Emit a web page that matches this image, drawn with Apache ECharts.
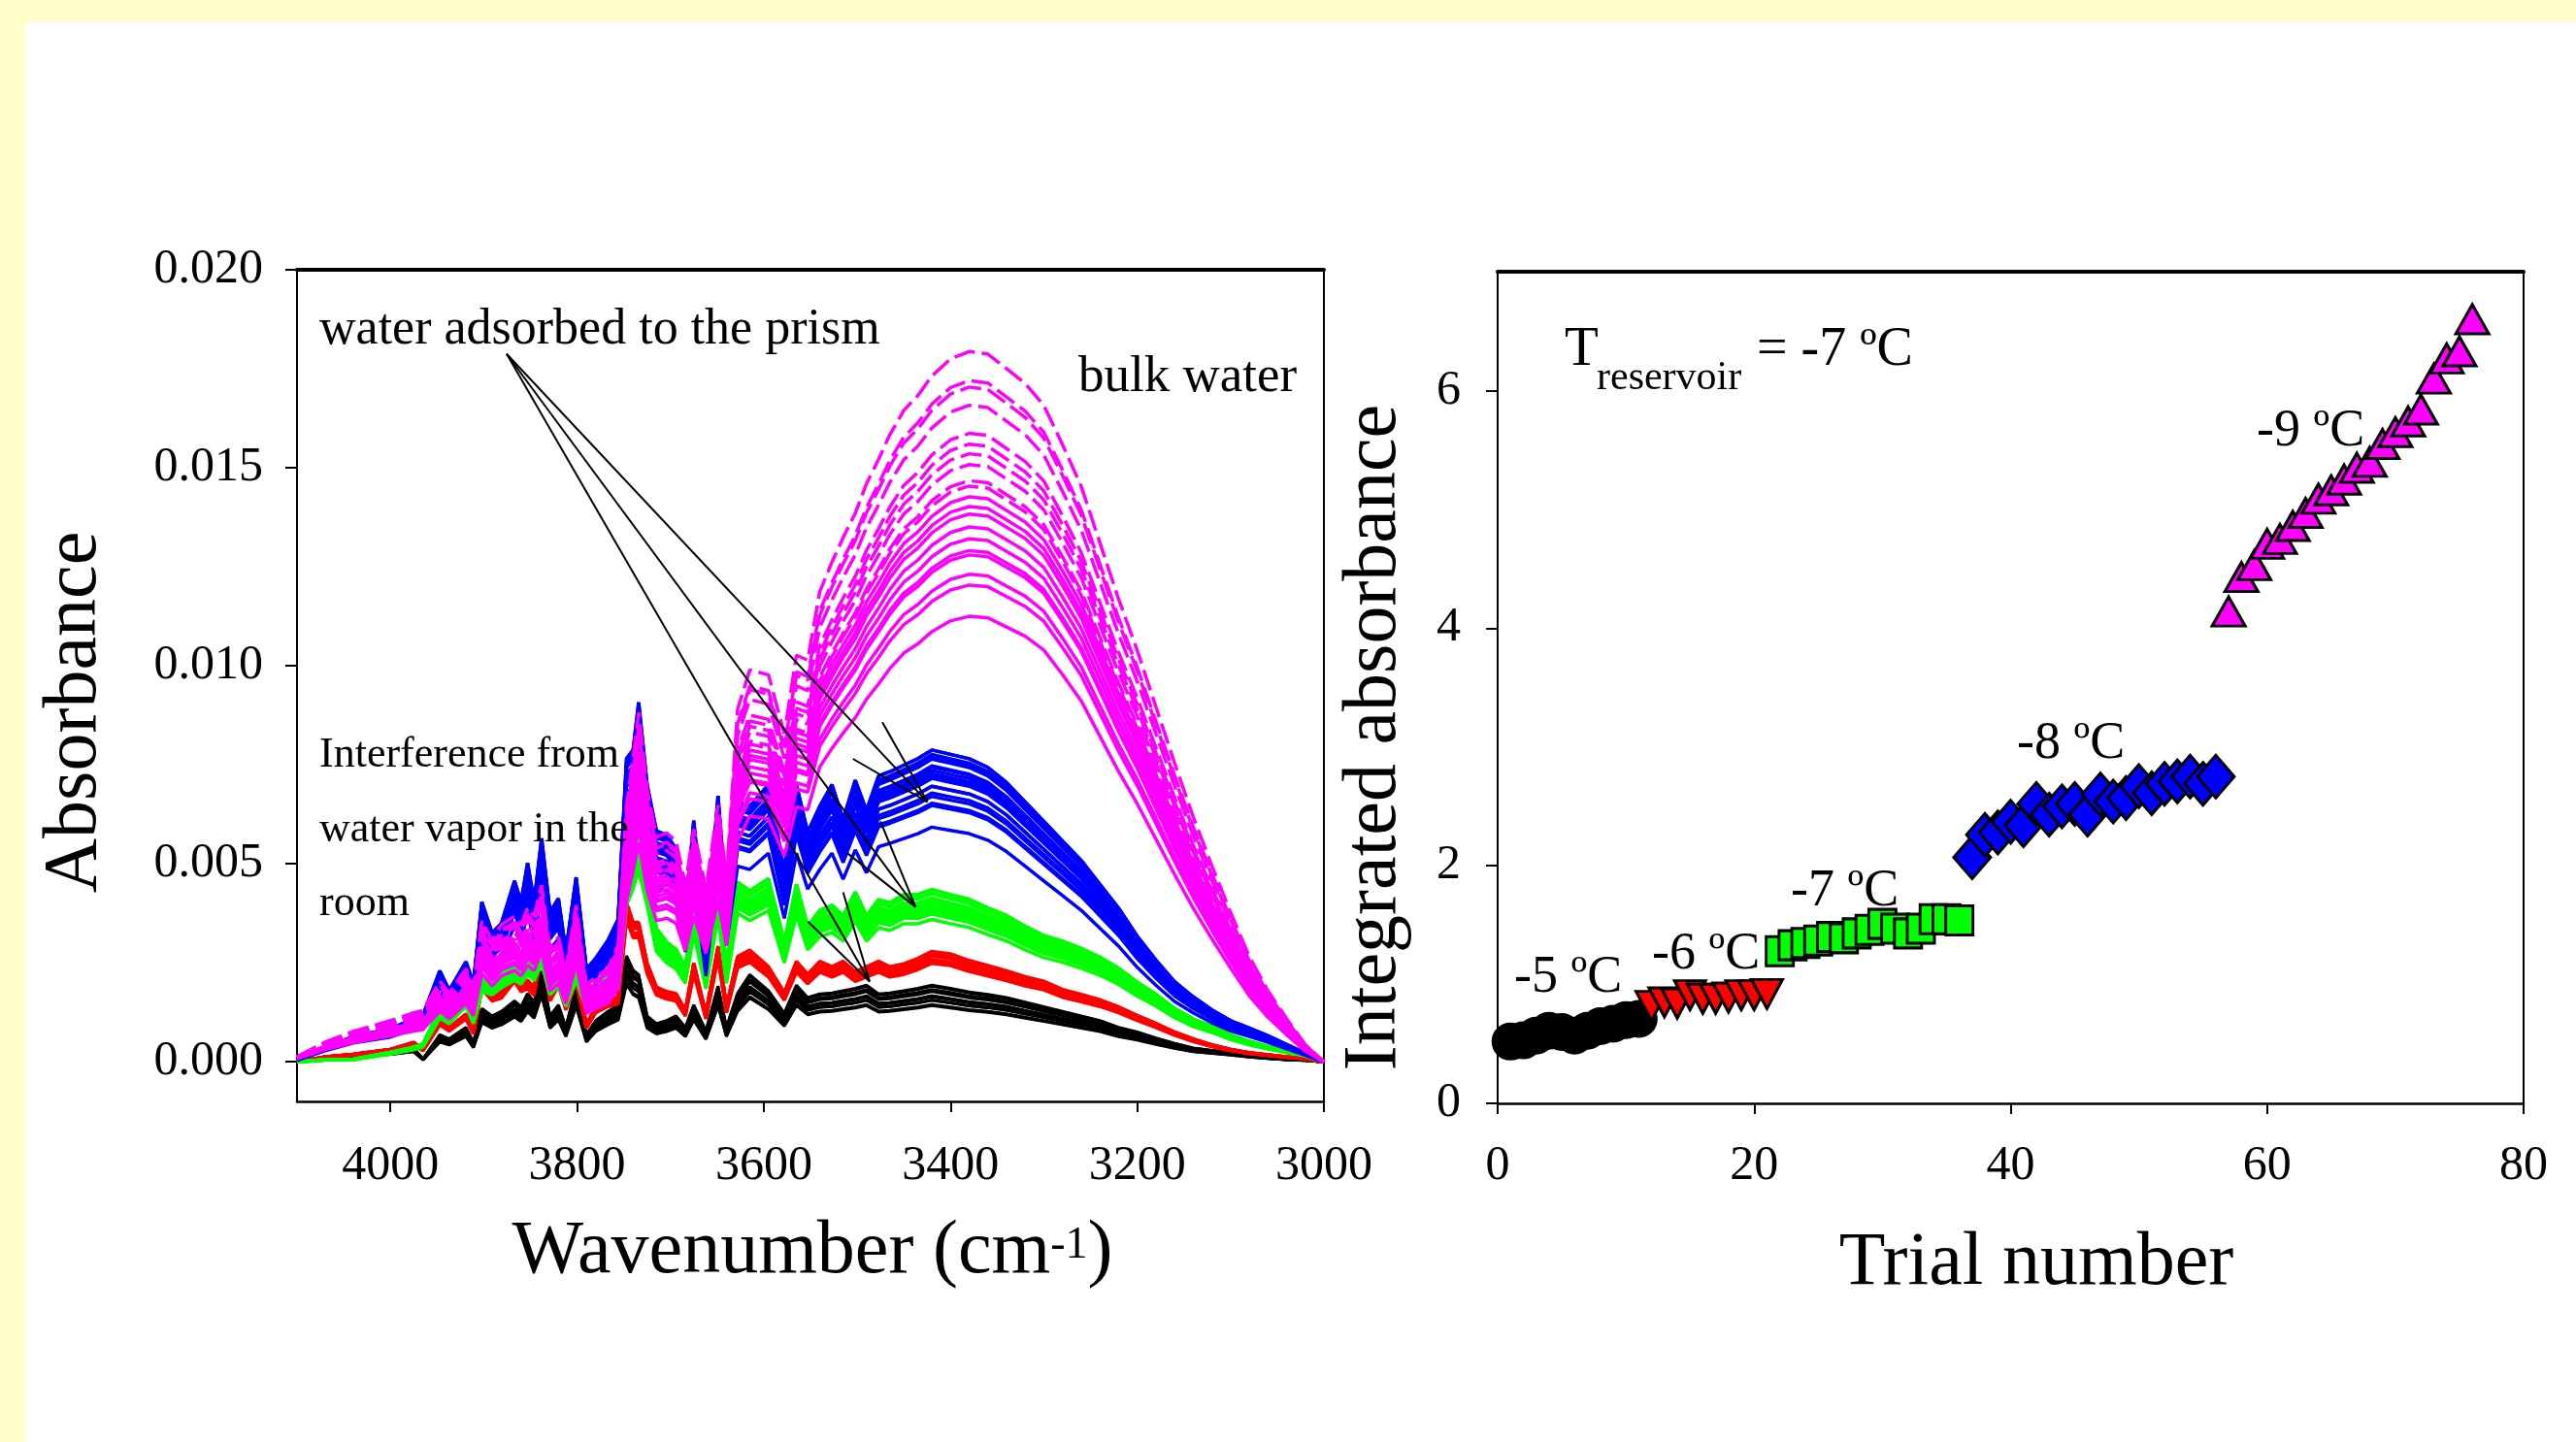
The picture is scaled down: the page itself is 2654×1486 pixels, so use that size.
<!DOCTYPE html>
<html><head><meta charset="utf-8">
<script src="https://cdn.jsdelivr.net/npm/echarts@6/dist/echarts.min.js"></script>
<style>
html,body{margin:0;padding:0;background:#ffffcc;overflow:hidden;}
#paper{position:absolute;left:26px;top:23px;right:0;bottom:0;background:#ffffff;}
#c{position:absolute;left:0;top:0;width:2654px;height:1486px;}
</style>
</head><body><div id="paper"></div><div id="c"></div>
<script>
// ---------- Left panel: ATR-IR spectra (absorbance in units of 10^-3) ----------
const wavenumbers = [4100,4070,4040,4000,3975,3965,3947,3937,3919,3911,3902,3891,3881,3867,3860,3853,3846,3838,3829,3820,3812,3801,3790,3780,3767,3756,3747,3740,3734,3725,3715,3704,3694,3684,3675,3662,3649,3640,3628,3615,3595,3578,3565,3553,3540,3527,3515,3502,3490,3477,3465,3450,3435,3420,3400,3380,3360,3340,3320,3300,3280,3260,3240,3220,3200,3180,3160,3140,3120,3100,3080,3060,3040,3020,3000];
const blackMilliAbs = [0.0,0.08,0.14,0.22,0.3,0.06,0.59,0.5,0.75,0.42,1.16,1.0,1.1,1.33,1.2,1.49,1.3,1.98,1.0,1.24,0.75,1.65,0.59,0.9,1.1,1.24,2.31,2.0,1.9,1.0,0.83,0.9,1.0,0.75,1.24,0.67,1.65,0.75,1.5,1.9,1.55,1.06,1.67,1.4,1.48,1.5,1.55,1.6,1.67,1.48,1.5,1.55,1.6,1.67,1.6,1.52,1.47,1.4,1.3,1.2,1.1,1.0,0.9,0.75,0.65,0.52,0.4,0.3,0.25,0.2,0.14,0.1,0.06,0.04,0.0];
const redMilliAbs = [0.0,0.12,0.18,0.3,0.47,0.3,1.0,0.83,1.16,0.75,1.98,1.65,1.73,2.18,1.9,1.98,1.8,2.97,1.65,2.06,1.41,2.14,0.91,1.33,1.5,1.57,3.86,3.37,3.37,2.39,1.81,1.7,1.65,1.24,2.39,1.16,2.8,1.33,2.55,2.7,2.3,1.67,2.43,2.12,2.43,2.3,2.43,2.18,2.3,2.43,2.3,2.37,2.5,2.67,2.61,2.45,2.33,2.2,2.06,1.95,1.75,1.63,1.5,1.33,1.12,0.93,0.72,0.55,0.41,0.3,0.22,0.17,0.12,0.08,0.0];
const greenMilliAbs = [0.0,0.05,0.06,0.22,0.34,0.42,1.24,1.08,1.57,1.08,1.98,1.9,2.1,2.31,2.2,2.47,2.3,2.8,1.9,2.14,1.57,2.31,1.49,1.9,2.0,2.06,4.43,4.9,5.41,4.43,3.12,2.8,2.63,2.22,3.61,2.06,4.1,2.22,4.2,4.0,4.28,2.8,4.15,3.17,3.54,3.66,3.42,3.97,3.42,3.79,3.72,3.91,3.91,4.03,3.91,3.8,3.6,3.42,3.17,2.95,2.82,2.65,2.45,2.19,1.86,1.58,1.25,1.0,0.83,0.63,0.48,0.36,0.26,0.17,0.0];
const blueMilliAbs = [0.05,0.34,0.58,0.76,1.0,1.08,2.1,1.65,2.31,1.81,3.69,2.97,3.2,4.18,3.69,4.59,3.69,5.16,3.45,3.77,2.55,4.26,2.14,2.39,2.8,3.29,7.0,7.2,8.3,6.4,5.33,5.24,4.92,3.37,5.57,2.63,6.14,3.61,6.0,5.9,6.4,4.4,6.4,5.3,5.9,6.4,5.6,6.5,5.8,6.6,6.7,6.85,7.0,7.2,7.1,7.0,6.8,6.45,6.0,5.55,5.1,4.65,4.1,3.55,2.9,2.35,1.85,1.5,1.2,0.95,0.78,0.6,0.4,0.2,0.0];
const magentaMilliAbs = [0.1,0.4,0.62,0.84,1.0,1.05,1.65,1.4,1.9,1.5,2.88,2.47,2.8,2.97,2.8,3.14,2.97,3.61,2.31,2.55,1.9,3.2,1.57,1.73,1.9,2.39,5.24,6.2,7.13,5.57,4.59,4.67,4.51,3.61,4.75,3.53,5.24,3.77,7.2,8.0,7.9,6.7,8.3,8.2,9.6,10.2,10.7,11.2,11.8,12.3,12.8,13.3,13.6,14.0,14.35,14.5,14.45,14.15,13.85,13.4,12.6,11.75,10.6,9.45,8.4,7.25,6.1,5.0,4.0,3.05,2.15,1.45,0.88,0.35,0.0];

// ---------- Right panel: integrated absorbance per trial ----------
const trialsM5 = [1,2,3,4,5,6,7,8,9,10,11];
const integM5 = [0.52,0.53,0.57,0.61,0.60,0.57,0.61,0.65,0.67,0.70,0.71];
const trialsM6 = [12,13,14,15,16,17,18,19,20,21];
const integM6 = [0.82,0.85,0.84,0.91,0.88,0.88,0.89,0.91,0.91,0.92];
const trialsM7 = [22,23,24,25,26,27,28,29,30,31,32,33,34,35,36];
const integM7 = [1.28,1.33,1.35,1.37,1.40,1.39,1.43,1.46,1.51,1.47,1.43,1.47,1.55,1.55,1.54];
const trialsM8 = [37,38,39,40,41,42,43,44,45,46,47,48,49,50,51,52,53,54,55,56];
const integM8 = [2.07,2.26,2.28,2.37,2.34,2.52,2.43,2.50,2.52,2.43,2.60,2.54,2.57,2.67,2.61,2.69,2.71,2.75,2.69,2.75];
const trialsM9 = [57,58,59,60,61,62,63,64,65,66,67,68,69,70,71,72,73,74,75,76];
const integM9 = [4.14,4.43,4.53,4.71,4.75,4.86,4.97,5.09,5.16,5.25,5.35,5.40,5.55,5.65,5.74,5.84,6.10,6.27,6.33,6.60];

// ---------- Ticks ----------
const leftXTicks = [4000,3800,3600,3400,3200,3000];
const leftYTicks = [0,0.005,0.010,0.015,0.020];
const rightXTicks = [0,20,40,60,80];
const rightYTicks = [0,2,4,6];

// ---------- Annotation arrows (wavenumber, absorbance) ----------
const arrowSegments = [
  [[3875.4,0.017875],[3424.8,0.006564]],
  [[3473.0,0.008576],[3424.8,0.006564]],
  [[3504.5,0.007650],[3424.8,0.006564]],
  [[3875.4,0.017875],[3437.4,0.003910]],
  [[3475.1,0.006070],[3437.4,0.003910]],
  [[3510.7,0.005270],[3437.4,0.003910]],
  [[3875.4,0.017875],[3486.6,0.002027]],
  [[3552.6,0.003540],[3486.6,0.002027]],
  [[3515.0,0.004280],[3486.6,0.002027]]
];

const FONT = '"Liberation Serif","Times New Roman",serif';
const mctx = document.createElement('canvas').getContext('2d');
function tw(t, size){ mctx.font = size + 'px "Liberation Serif"'; return mctx.measureText(t).width; }

// each trial's spectrum = its group's mean spectrum scaled by the trial's integrated absorbance
function spectra(shape, ints, color, width, dashUpper){
  const mean = ints.reduce((a,b)=>a+b,0)/ints.length;
  return ints.map(v => ({
    type:'line', xAxisIndex:0, yAxisIndex:0, showSymbol:false, silent:true, animation:false,
    data: wavenumbers.map((w,i)=>[w, shape[i]*v/mean/1000]),
    lineStyle:{color:color, width:width, type:(dashUpper && v>mean)?[22,7]:'solid'},
    z:2
  }));
}
function scatter(trials, ints, symbol, size, color, rot){
  return {type:'scatter', xAxisIndex:2, yAxisIndex:2, silent:true, animation:false,
    symbol:symbol, symbolSize:size, symbolRotate:rot||0,
    data: trials.map((t,i)=>[t, ints[i]]),
    itemStyle:{color:color, borderColor:'#000', borderWidth:3, opacity:1}, z:3};
}

function txt(text, x, y, size, extra){
  return Object.assign({type:'text', x:x, y:y, silent:true, z:100,
    style:{text:text, fontSize:size, fontFamily:FONT, fill:'#000', align:'left', verticalAlign:'middle'}}, extra||{});
}
function ctxt(text, x, y, size, rot){
  return {type:'text', x:x, y:y, rotation:rot||0, silent:true, z:100,
    style:{text:text, fontSize:size, fontFamily:FONT, fill:'#000', align:'center', verticalAlign:'middle'}};
}

const series = [].concat(
  spectra(blackMilliAbs, integM5, '#000000', 3, false),
  spectra(redMilliAbs, integM6, '#ff0000', 3.5, false),
  spectra(greenMilliAbs, integM7, '#00ff00', 3.5, false),
  spectra(blueMilliAbs, integM8, '#0000ff', 3.5, false),
  spectra(magentaMilliAbs, integM9, '#ff00ff', 3.5, true),
  arrowSegments.map(seg => ({type:'line', xAxisIndex:0, yAxisIndex:0, showSymbol:false, silent:true, animation:false,
    data:seg, lineStyle:{color:'#000', width:2}, z:5})),
  [
    scatter(trialsM5, integM5, 'circle', 36, '#000000'),
    scatter(trialsM6, integM6, 'triangle', [32,30], '#ff0000', 180),
    scatter(trialsM7, integM7, 'rect', [28,30], '#00ff00'),
    scatter(trialsM8, integM8, 'diamond', [38,44], '#0000ff'),
    scatter(trialsM9, integM9, 'triangle', [34,30], '#ff00ff')
  ]
);

const lab = {fontFamily:FONT, fontSize:50, color:'#000'};
function baseX(grid, min, max, pos, lw, ticks, inverse, margin){
  return {type:'value', gridIndex:grid, min:min, max:max, inverse:!!inverse, position:pos,
    axisLine:{show:true, onZero:false, lineStyle:{color:'#000', width:lw}},
    axisTick:ticks?{show:true, inside:false, length:11, lineStyle:{color:'#000', width:2}, customValues:ticks}:{show:false},
    axisLabel:ticks?Object.assign({show:true, margin:margin, customValues:ticks, formatter: v => String(v)}, lab):{show:false},
    splitLine:{show:false}};
}
const xAxes = [
  baseX(0, 3000, 4100, 'bottom', 2.5, leftXTicks, true, 42),
  baseX(0, 3000, 4100, 'top', 4, null, true),
  baseX(1, 0, 80, 'bottom', 2.5, rightXTicks, false, 40),
  baseX(1, 0, 80, 'top', 4, null, false)
];
const y0 = baseX(0, -0.001, 0.020, 'left', 2, leftYTicks, false, 35);
y0.axisLabel.formatter = v => v.toFixed(3);
y0.axisTick.length = 12;
const y2 = baseX(1, 0, 7, 'left', 2, rightYTicks, false, 38);
y2.axisTick.length = 12;
const yAxes = [
  y0,
  baseX(0, -0.001, 0.020, 'right', 2, null, false),
  y2,
  baseX(1, 0, 7, 'right', 2, null, false)
];

// x-title of left panel with superscript
const tA = 'Wavenumber (cm', tS = '-1', tC = ')';
const wA = tw(tA,78), wS = tw(tS,46), wC = tw(tC,78);
const x0 = 837 - (wA+wS+wC)/2;

const graphics = [
  txt('water adsorbed to the prism', 329, 340.5, 52),
  txt('bulk water', 1111, 388.6, 53),
  txt('Interference from', 329, 778.5, 44),
  txt('water vapor in the', 329, 855.5, 44),
  txt('room', 329, 931.5, 44),
  ctxt('Absorbance', 78, 734, 78, Math.PI/2),
  txt(tA, x0, 1290.7, 78),
  txt(tS, x0+wA, 1283.5, 46),
  txt(tC, x0+wA+wS, 1290.7, 78),
  ctxt('Integrated absorbance', 1417, 760, 78, Math.PI/2),
  ctxt('Trial number', 2098, 1302.7, 78),
  txt('T', 1612, 361, 57),
  txt('reservoir', 1645, 389.8, 42),
  txt('= -7 ºC', 1810, 361, 56),
  txt('-5 ºC', 1560, 1007.8, 54),
  txt('-6 ºC', 1702, 983.8, 54),
  txt('-7 ºC', 1845, 918.8, 54),
  txt('-8 ºC', 2078, 766.8, 54),
  txt('-9 ºC', 2325, 444.8, 54)
];

const chart = echarts.init(document.getElementById('c'), null, {renderer:'canvas', width:2654, height:1486});
chart.setOption({
  animation:false,
  backgroundColor:'transparent',
  grid:[
    {left:306, top:278, width:1058, height:857},
    {left:1543, top:280, width:1057, height:857}
  ],
  xAxis:xAxes,
  yAxis:yAxes,
  series:series,
  graphic:{elements:graphics}
});
</script>
</body></html>
